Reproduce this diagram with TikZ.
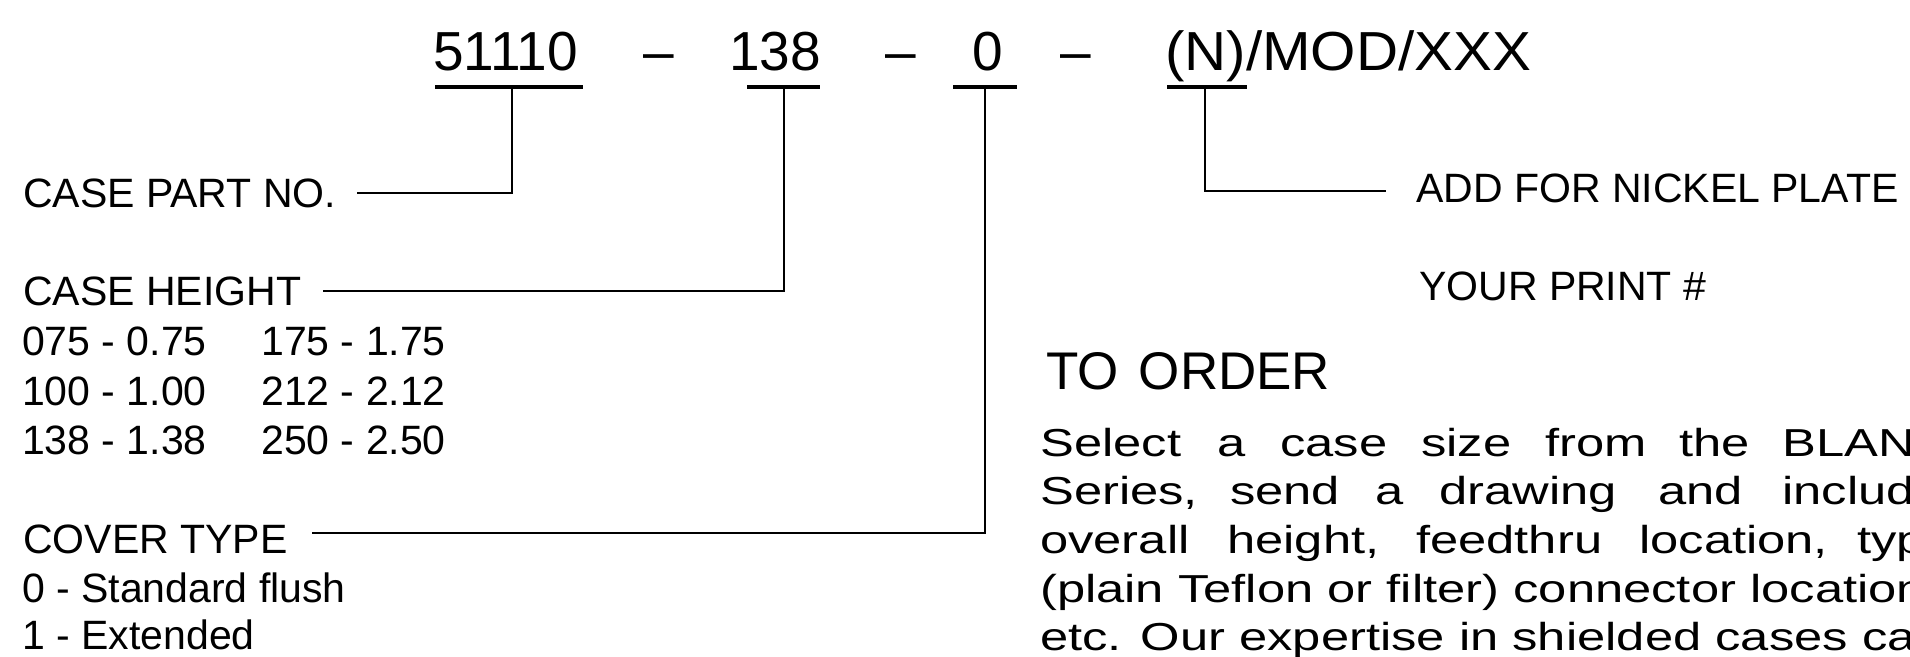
\documentclass[tikz,border=0pt]{standalone}
\usepackage{fontspec}
\setmainfont{Liberation Sans}
\newfontfamily\bodyfont{Liberation Sans}[FakeStretch=1.3]
\newfontfamily\widefont{Liberation Sans}[FakeStretch=1.06]
\begin{document}
\begin{tikzpicture}[x=1pt,y=-1pt,
  big/.style={font=\fontsize{55}{60}\selectfont, inner sep=0pt, anchor=base west},
  lab/.style={font=\fontsize{41}{46}\selectfont, inner sep=0pt, anchor=base west},
  ttl/.style={font=\fontsize{53}{58}\selectfont, inner sep=0pt, anchor=base west},
  body/.style={font=\bodyfont\fontsize{39}{44}\selectfont, inner sep=0pt, anchor=base west},
  uline/.style={line width=4pt},
  conn/.style={line width=2.6pt}]
\useasboundingbox (0,0) rectangle (1910,656);
\clip (0,0) rectangle (1910,656);

% part number line
\node[big] (p1) at (433,70) {51110};
\node[big] (s1) at (643,70) {\textendash};
\node[big] (p2) at (729,70) {138};
\node[big] (s2) at (885,70) {\textendash};
\node[big] (p3) at (972,70) {0};
\node[big] (s3) at (1060,70) {\textendash};
\node[big, font=\widefont\fontsize{55}{60}\selectfont] (p4) at (1165,70) {(N)/MOD/XXX};

% underlines
\draw[uline] (435,87) -- (583,87);
\draw[uline] (747,87) -- (820,87);
\draw[uline] (953,87) -- (1017,87);
\draw[uline] (1167,87) -- (1247,87);
\coordinate (u1) at (512,87);
\coordinate (u2) at (784,87);
\coordinate (u3) at (985,87);
\coordinate (u4) at (1205,87);

% left labels
\node[lab] (cpn) at (23,207) {CASE PART NO.};
\node[lab] (ch) at (23,305) {CASE HEIGHT};
\node[lab] (h1) at (22,355) {075 - 0.75};
\node[lab] (h2) at (261,355) {175 - 1.75};
\node[lab] (h3) at (22,405) {100 - 1.00};
\node[lab] (h4) at (261,405) {212 - 2.12};
\node[lab] (h5) at (22,454) {138 - 1.38};
\node[lab] (h6) at (261,454) {250 - 2.50};
\node[lab] (ct) at (23,553) {COVER TYPE};
\node[lab] (c0) at (22,602) {0 - Standard flush};
\node[lab] (c1) at (22,649) {1 - Extended};

% right labels
\node[lab] (nick) at (1416,202) {ADD FOR NICKEL PLATE};
\node[lab] (yp) at (1419,300) {YOUR PRINT \#};
\node[ttl] (to) at (1046,389) {TO\hspace{20pt}ORDER};

% connectors
\draw[conn] (u1) |- ([xshift=21pt]cpn.east);
\draw[conn] (u2) |- ([xshift=22pt]ch.east);
\draw[conn] (u3) |- ([xshift=24pt,yshift=6pt]ct.east);
\draw[conn] (u4) |- ([xshift=-30pt,yshift=-3pt]nick.west);

% body paragraph
\node[body] (a1) at (1040,456) {Select};
\node[body] (a2) at (1217,456) {a};
\node[body] (a3) at (1280,456) {case};
\node[body] (a4) at (1421,456) {size};
\node[body] (a5) at (1545,456) {from};
\node[body] (a6) at (1679,456) {the};
\node[body] (a7) at (1782,456) {BLANK};
\node[body] (b1) at (1040,504) {Series,};
\node[body] (b2) at (1230,504) {send};
\node[body] (b3) at (1375,504) {a};
\node[body] (b4) at (1439,504) {drawing};
\node[body] (b5) at (1658,504) {and};
\node[body] (b6) at (1782,504) {include};
\node[body] (e1) at (1040,553) {overall};
\node[body] (e2) at (1227,553) {height,};
\node[body] (e3) at (1416,553) {feedthru};
\node[body] (e4) at (1639,553) {location,};
\node[body] (e5) at (1857,553) {type};
\node[body] (f1) at (1040,602) {(plain Teflon or filter) connector location,};
\node[body] (g1) at (1040,650) {etc. Our expertise in shielded cases can};
\end{tikzpicture}
\end{document}
